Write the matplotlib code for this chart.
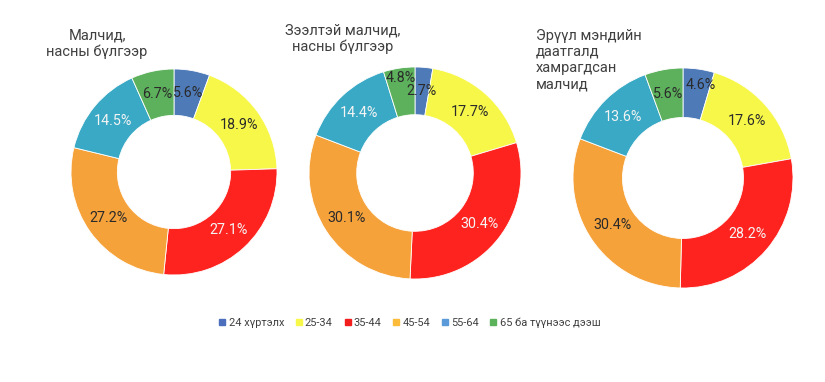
import matplotlib
matplotlib.use("Agg")
import matplotlib.pyplot as plt
from matplotlib.lines import Line2D
import numpy as np

plt.rcParams['font.family'] = ['Roboto', 'DejaVu Sans']

# age groups (legend order)
groups = ["24 хүртэлх", "25-34", "35-44", "45-54", "55-64", "65 ба түүнээс дээш"]

# share by age group, %
herders = [5.6, 18.9, 27.1, 27.2, 14.5, 6.7]
herders_loan = [2.7, 17.7, 30.4, 30.1, 14.4, 4.8]
herders_insured = [4.6, 17.6, 28.2, 30.4, 13.6, 5.6]

titles = ["Малчид,\nнасны бүлгээр",
          "Зээлтэй малчид,\nнасны бүлгээр",
          "Эрүүл мэндийн\nдаатгалд\nхамрагдсан\nмалчид"]

pie_colors = ["#4e7ab8", "#f7f74a", "#ff231f", "#f6a23b", "#39a9c5", "#5db15c"]
legend_colors = ["#4b6fbd", "#f8f84a", "#f21d1d", "#fdbb3a", "#5b9ad8", "#5bb25b"]
label_colors = ["#2a2a2a", "#2a2a2a", "#f4f4f4", "#2a2a2a", "#f4f4f4", "#2a2a2a"]

W, H = 825, 382
fig = plt.figure(figsize=(W / 100, H / 100), dpi=100)

# pie centres and radii in pixels
layout = [(174, 172, 103), (415, 173, 106), (683, 178, 110)]
ring = 0.45
# small label nudges (chart, slice) -> (dx, dy) so crowded labels clear each other
nudges = {(1, 5): (-0.02, 0.13), (2, 0): (0.05, 0.08)}

for k, (vals, (cx, cy, r)) in enumerate(zip([herders, herders_loan, herders_insured], layout)):
    ax = fig.add_axes([(cx - r) / W, 1 - (cy + r) / H, 2 * r / W, 2 * r / H])
    wedges, _ = ax.pie(vals, colors=pie_colors, startangle=90, counterclock=False,
                       radius=1, wedgeprops=dict(width=ring, edgecolor="white", linewidth=0.6))
    lr = 1 - ring / 2
    for i, (w, v) in enumerate(zip(wedges, vals)):
        ang = np.deg2rad((w.theta1 + w.theta2) / 2)
        x, y = lr * np.cos(ang), lr * np.sin(ang)
        dx, dy = nudges.get((k, i), (0, 0))
        ax.text(x + dx, y + dy, f"{v}%", ha="center", va="center", fontsize=10.3,
                color=label_colors[i])
    ax.set_xlim(-1, 1)
    ax.set_ylim(-1, 1)
    ax.axis("off")

fig.text(97 / W, 1 - 44 / H, titles[0], ha="center", va="center", fontsize=10.5,
         color="#404040", linespacing=1.2)
fig.text(343 / W, 1 - 39 / H, titles[1], ha="center", va="center", fontsize=10.5,
         color="#404040", linespacing=1.2)
fig.text(536 / W, 1 - 60 / H, titles[2], ha="left", va="center", fontsize=10.5,
         color="#404040", linespacing=1.2)

handles = [Line2D([], [], marker="s", linestyle="none", markersize=4.5,
                  markerfacecolor=c, markeredgecolor=c) for c in legend_colors]
fig.legend(handles, groups, loc="center", bbox_to_anchor=(410 / W, 1 - 323 / H),
           ncol=6, frameon=False, fontsize=7.9, handlelength=0.5, handletextpad=0.3,
           columnspacing=1.1, labelcolor="#404040")

fig.savefig("out.png", dpi=100)
